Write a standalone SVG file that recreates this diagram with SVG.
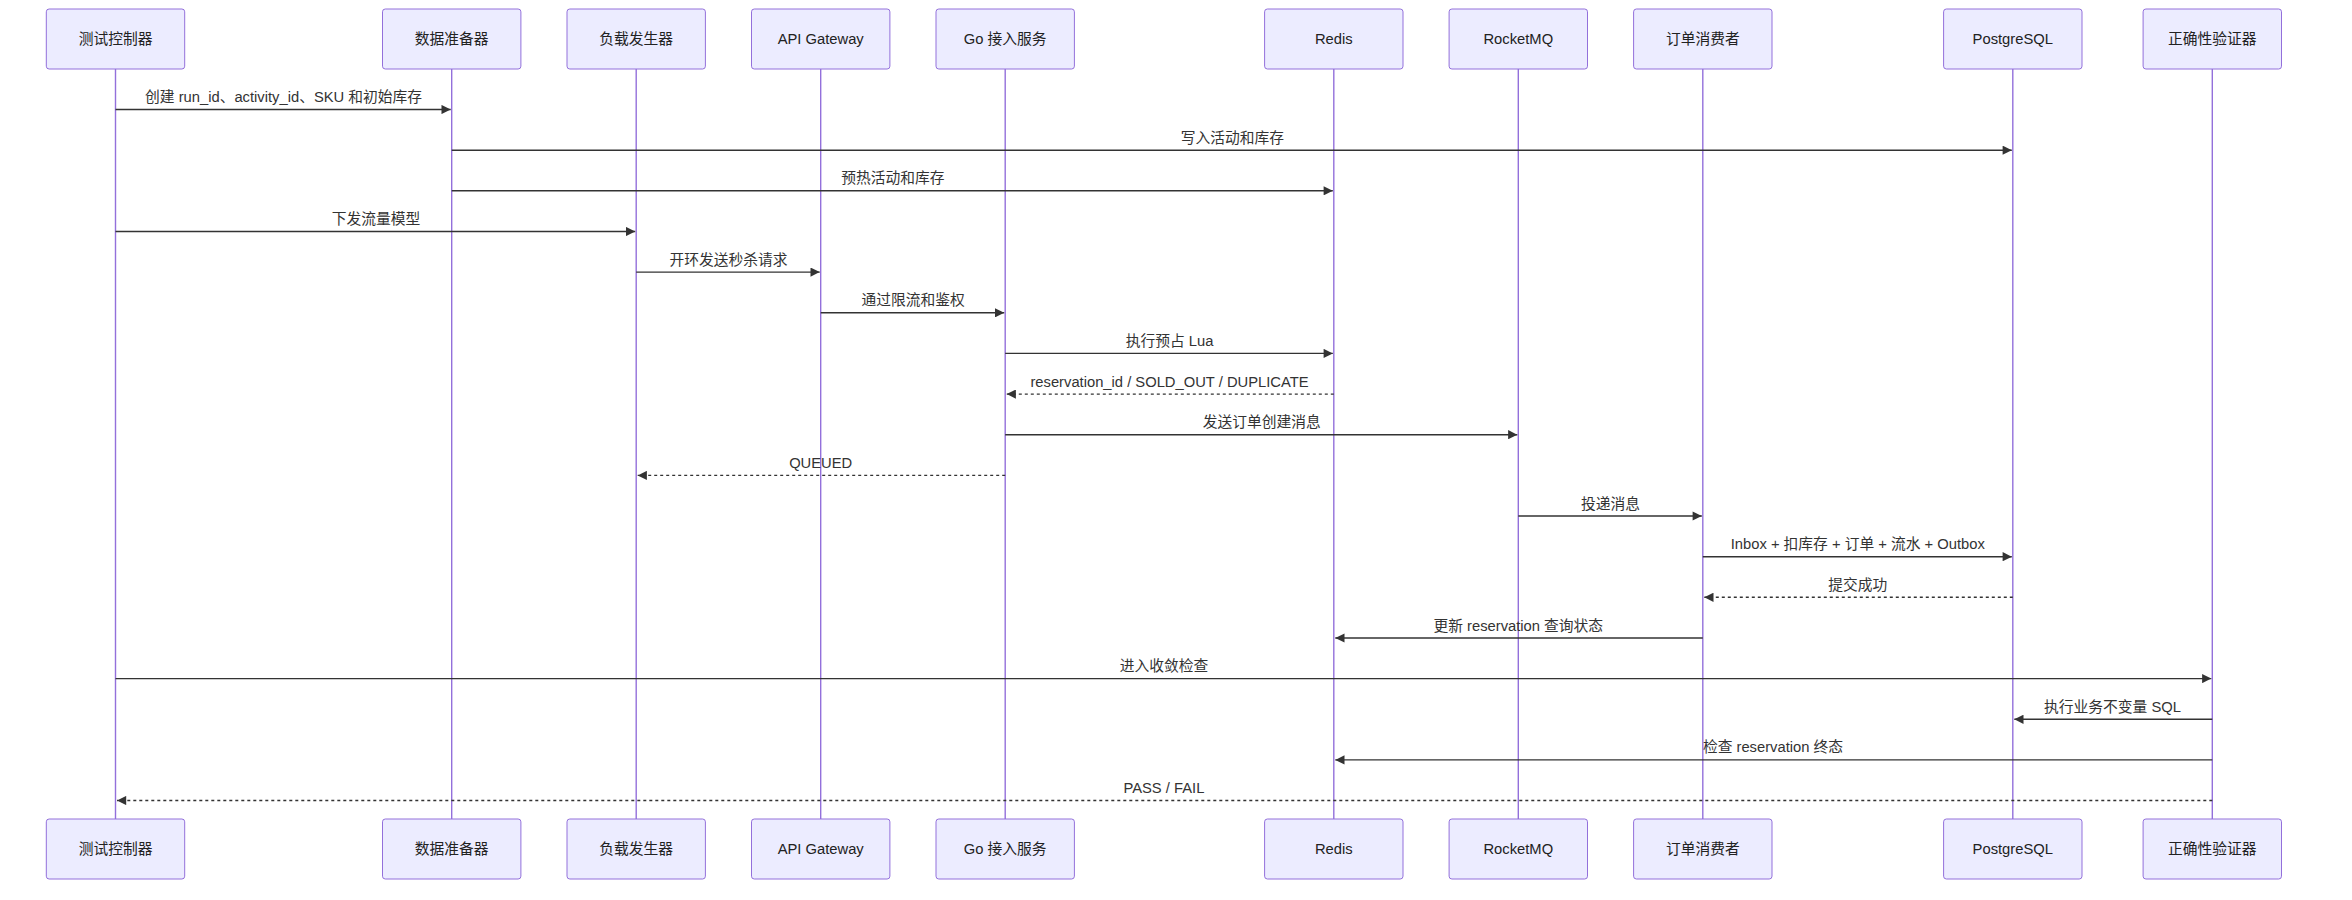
<svg xmlns="http://www.w3.org/2000/svg" width="2352" height="900" viewBox="0 0 2352 900">
<style>
.box{fill:#ECECFF;stroke:#9370DB;stroke-width:1}
.life{stroke:#9370DB;stroke-width:1.4}
.lbl{font-family:"Liberation Sans","Noto Sans CJK SC",sans-serif;font-size:14.76px;fill:#333;text-anchor:middle}
.albl{font-family:"Liberation Sans","Noto Sans CJK SC",sans-serif;font-size:14.76px;fill:#222;text-anchor:middle;dominant-baseline:central}
.msg{stroke:#333;stroke-width:1.4;fill:none;marker-end:url(#ah)}
.dash{stroke-dasharray:3,3}
</style>
<defs>
<marker id="ah" viewBox="0 0 10 10" refX="10" refY="5" markerWidth="10" markerHeight="9.2" markerUnits="userSpaceOnUse" orient="auto">
<path d="M0,0 L10,5 L0,10 z" fill="#333"/>
</marker>
</defs>
<rect width="2352" height="900" fill="#fff"/>
<g id="lifelines">
<line class="life" x1="115.5" y1="69" x2="115.5" y2="819"/>
<line class="life" x1="451.7" y1="69" x2="451.7" y2="819"/>
<line class="life" x1="636.2" y1="69" x2="636.2" y2="819"/>
<line class="life" x1="820.7" y1="69" x2="820.7" y2="819"/>
<line class="life" x1="1005.2" y1="69" x2="1005.2" y2="819"/>
<line class="life" x1="1333.8" y1="69" x2="1333.8" y2="819"/>
<line class="life" x1="1518.3" y1="69" x2="1518.3" y2="819"/>
<line class="life" x1="1702.8" y1="69" x2="1702.8" y2="819"/>
<line class="life" x1="2012.8" y1="69" x2="2012.8" y2="819"/>
<line class="life" x1="2212.3" y1="69" x2="2212.3" y2="819"/>
</g>
<g id="actor-controller">
<rect class="box" x="46.3" y="9" width="138.4" height="60" rx="2.8"/><text class="albl" x="115.5" y="39">测试控制器</text>
<rect class="box" x="46.3" y="819" width="138.4" height="60" rx="2.8"/><text class="albl" x="115.5" y="849">测试控制器</text>
</g>
<g id="actor-dataprep">
<rect class="box" x="382.5" y="9" width="138.4" height="60" rx="2.8"/><text class="albl" x="451.7" y="39">数据准备器</text>
<rect class="box" x="382.5" y="819" width="138.4" height="60" rx="2.8"/><text class="albl" x="451.7" y="849">数据准备器</text>
</g>
<g id="actor-loadgen">
<rect class="box" x="567" y="9" width="138.4" height="60" rx="2.8"/><text class="albl" x="636.2" y="39">负载发生器</text>
<rect class="box" x="567" y="819" width="138.4" height="60" rx="2.8"/><text class="albl" x="636.2" y="849">负载发生器</text>
</g>
<g id="actor-gateway">
<rect class="box" x="751.5" y="9" width="138.4" height="60" rx="2.8"/><text class="albl" x="820.7" y="39">API Gateway</text>
<rect class="box" x="751.5" y="819" width="138.4" height="60" rx="2.8"/><text class="albl" x="820.7" y="849">API Gateway</text>
</g>
<g id="actor-go">
<rect class="box" x="936" y="9" width="138.4" height="60" rx="2.8"/><text class="albl" x="1005.2" y="39">Go 接入服务</text>
<rect class="box" x="936" y="819" width="138.4" height="60" rx="2.8"/><text class="albl" x="1005.2" y="849">Go 接入服务</text>
</g>
<g id="actor-redis">
<rect class="box" x="1264.6" y="9" width="138.4" height="60" rx="2.8"/><text class="albl" x="1333.8" y="39">Redis</text>
<rect class="box" x="1264.6" y="819" width="138.4" height="60" rx="2.8"/><text class="albl" x="1333.8" y="849">Redis</text>
</g>
<g id="actor-rocketmq">
<rect class="box" x="1449.1" y="9" width="138.4" height="60" rx="2.8"/><text class="albl" x="1518.3" y="39">RocketMQ</text>
<rect class="box" x="1449.1" y="819" width="138.4" height="60" rx="2.8"/><text class="albl" x="1518.3" y="849">RocketMQ</text>
</g>
<g id="actor-consumer">
<rect class="box" x="1633.6" y="9" width="138.4" height="60" rx="2.8"/><text class="albl" x="1702.8" y="39">订单消费者</text>
<rect class="box" x="1633.6" y="819" width="138.4" height="60" rx="2.8"/><text class="albl" x="1702.8" y="849">订单消费者</text>
</g>
<g id="actor-postgres">
<rect class="box" x="1943.6" y="9" width="138.4" height="60" rx="2.8"/><text class="albl" x="2012.8" y="39">PostgreSQL</text>
<rect class="box" x="1943.6" y="819" width="138.4" height="60" rx="2.8"/><text class="albl" x="2012.8" y="849">PostgreSQL</text>
</g>
<g id="actor-validator">
<rect class="box" x="2143.1" y="9" width="138.4" height="60" rx="2.8"/><text class="albl" x="2212.3" y="39">正确性验证器</text>
<rect class="box" x="2143.1" y="819" width="138.4" height="60" rx="2.8"/><text class="albl" x="2212.3" y="849">正确性验证器</text>
</g>
<g id="connectors">
<line class="msg" x1="115.5" y1="109.5" x2="450.7" y2="109.5"/>
<text class="lbl" x="283.6" y="102">创建 run_id、activity_id、SKU 和初始库存</text>
<line class="msg" x1="451.7" y1="150.2" x2="2011.8" y2="150.2"/>
<text class="lbl" x="1232.3" y="142.7">写入活动和库存</text>
<line class="msg" x1="451.7" y1="190.8" x2="1332.8" y2="190.8"/>
<text class="lbl" x="892.8" y="183.3">预热活动和库存</text>
<line class="msg" x1="115.5" y1="231.5" x2="635.2" y2="231.5"/>
<text class="lbl" x="375.9" y="224">下发流量模型</text>
<line class="msg" x1="636.2" y1="272.1" x2="819.7" y2="272.1"/>
<text class="lbl" x="728.5" y="264.6">开环发送秒杀请求</text>
<line class="msg" x1="820.7" y1="312.8" x2="1004.2" y2="312.8"/>
<text class="lbl" x="913" y="305.3">通过限流和鉴权</text>
<line class="msg" x1="1005.2" y1="353.4" x2="1332.8" y2="353.4"/>
<text class="lbl" x="1169.5" y="345.9">执行预占 Lua</text>
<line class="msg dash" x1="1333.8" y1="394.1" x2="1006.7" y2="394.1"/>
<text class="lbl" x="1169.5" y="386.6">reservation_id / SOLD_OUT / DUPLICATE</text>
<line class="msg" x1="1005.2" y1="434.7" x2="1517.3" y2="434.7"/>
<text class="lbl" x="1261.8" y="427.2">发送订单创建消息</text>
<line class="msg dash" x1="1005.2" y1="475.4" x2="637.7" y2="475.4"/>
<text class="lbl" x="820.7" y="467.9">QUEUED</text>
<line class="msg" x1="1518.3" y1="516" x2="1701.8" y2="516"/>
<text class="lbl" x="1610.6" y="508.5">投递消息</text>
<line class="msg" x1="1702.8" y1="556.7" x2="2011.8" y2="556.7"/>
<text class="lbl" x="1857.8" y="549.2">Inbox + 扣库存 + 订单 + 流水 + Outbox</text>
<line class="msg dash" x1="2012.8" y1="597.3" x2="1704.3" y2="597.3"/>
<text class="lbl" x="1857.8" y="589.8">提交成功</text>
<line class="msg" x1="1702.8" y1="638" x2="1335.3" y2="638"/>
<text class="lbl" x="1518.3" y="630.5">更新 reservation 查询状态</text>
<line class="msg" x1="115.5" y1="678.6" x2="2211.3" y2="678.6"/>
<text class="lbl" x="1163.9" y="671.1">进入收敛检查</text>
<line class="msg" x1="2212.3" y1="719.3" x2="2014.3" y2="719.3"/>
<text class="lbl" x="2112.5" y="711.8">执行业务不变量 SQL</text>
<line class="msg" x1="2212.3" y1="759.9" x2="1335.3" y2="759.9"/>
<text class="lbl" x="1773" y="752.4">检查 reservation 终态</text>
<line class="msg dash" x1="2212.3" y1="800.5" x2="117" y2="800.5"/>
<text class="lbl" x="1163.9" y="793">PASS / FAIL</text>
</g>
</svg>
